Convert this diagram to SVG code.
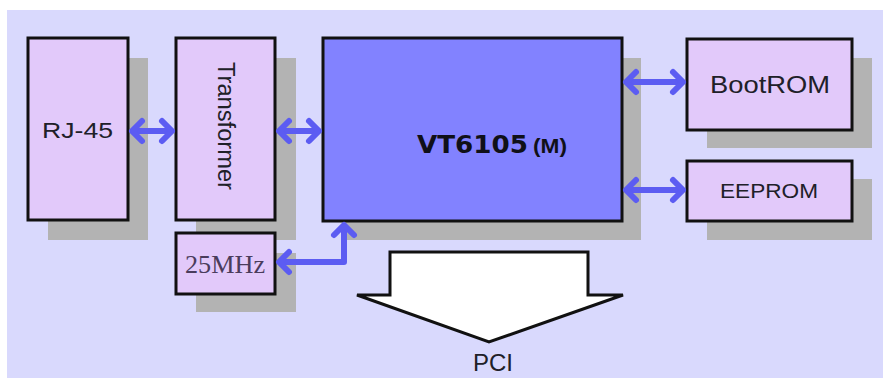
<svg xmlns="http://www.w3.org/2000/svg" width="883" height="378" viewBox="0 0 883 378">
<defs>
<style>
.shadow{fill:#b3b3b3;}
.box{fill:#e2c9fa;stroke:#111;stroke-width:3;}
.chip{fill:#8282ff;stroke:#111;stroke-width:3;}
.lbl{font-family:"Liberation Sans",Arial,sans-serif;fill:#202028;}
.conn{fill:none;stroke:#5c5cf2;stroke-width:6;stroke-linejoin:round;}
</style>
<marker id="chev" markerUnits="userSpaceOnUse" viewBox="-16 -14 20 28" refX="0" refY="0" markerWidth="20" markerHeight="28" orient="auto-start-reverse" overflow="visible">
<path d="M-11,-10 L-1,0 L-11,10" fill="none" stroke="#5c5cf2" stroke-width="6" stroke-linecap="round" stroke-linejoin="round"/>
</marker>
</defs>
<rect x="0" y="0" width="883" height="378" fill="#ffffff"/>
<rect x="7" y="10" width="876" height="368" fill="#d9d9fd"/>

<g id="rj45">
<rect class="shadow" x="48" y="58" width="100" height="182"/>
<rect class="box" x="28" y="38" width="100" height="182"/>
<text class="lbl" x="42" y="138" font-size="22" textLength="71" lengthAdjust="spacingAndGlyphs">RJ-45</text>
</g>

<g id="transformer">
<rect class="shadow" x="196" y="58" width="100" height="182"/>
<rect class="box" x="176" y="38" width="99" height="182"/>
<text class="lbl" transform="translate(218,62) rotate(90)" x="0" y="0" font-size="23" textLength="128" lengthAdjust="spacingAndGlyphs">Transformer</text>
</g>

<g id="osc">
<rect class="shadow" x="196" y="253" width="100" height="59"/>
<rect class="box" x="176" y="233" width="99" height="61"/>
<text x="185" y="273" font-family="'Liberation Serif','Times New Roman',serif" font-size="26" fill="#4a3c5c" textLength="80" lengthAdjust="spacingAndGlyphs">25MHz</text>
</g>

<g id="vt6105">
<rect class="shadow" x="342" y="58" width="299" height="182"/>
<rect class="chip" x="323" y="38" width="299" height="183"/>
<text x="417" y="153" font-family="'DejaVu Sans',Verdana,sans-serif" font-weight="bold" font-size="25" fill="#101018" textLength="111" lengthAdjust="spacingAndGlyphs">VT6105</text>
<text x="533" y="153" font-family="'Liberation Sans',Arial,sans-serif" font-weight="bold" font-size="21" fill="#101018" textLength="34" lengthAdjust="spacingAndGlyphs">(M)</text>
</g>

<g id="bootrom">
<rect class="shadow" x="707" y="58" width="165" height="90"/>
<rect class="box" x="687" y="39" width="165" height="91"/>
<text class="lbl" x="710" y="93" font-size="24" textLength="120" lengthAdjust="spacingAndGlyphs">BootROM</text>
</g>

<g id="eeprom">
<rect class="shadow" x="707" y="179" width="165" height="61"/>
<rect class="box" x="687" y="161" width="165" height="60"/>
<text class="lbl" x="720" y="198" font-size="21" textLength="98" lengthAdjust="spacingAndGlyphs">EEPROM</text>
</g>

<g id="pci">
<polygon points="390,252 588,252 588,295 623,295 489,342 357,295 390,295" fill="#ffffff" stroke="#111" stroke-width="3" stroke-linejoin="miter"/>
<text class="lbl" x="493" y="371" font-size="24" text-anchor="middle">PCI</text>
</g>

<g id="connectors">
<path class="conn" d="M131,131 H173" marker-start="url(#chev)" marker-end="url(#chev)"/>
<path class="conn" d="M278,131 H320" marker-start="url(#chev)" marker-end="url(#chev)"/>
<path class="conn" d="M625,82 H684" marker-start="url(#chev)" marker-end="url(#chev)"/>
<path class="conn" d="M625,190 H684" marker-start="url(#chev)" marker-end="url(#chev)"/>
<path class="conn" d="M278,262 H344 V224" marker-start="url(#chev)" marker-end="url(#chev)"/>
</g>
</svg>
